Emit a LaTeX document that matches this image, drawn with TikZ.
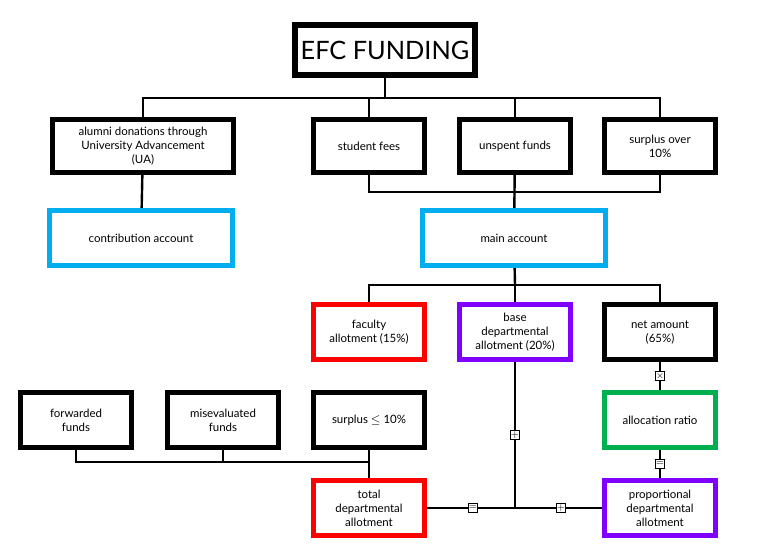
\documentclass[tikz,border=0pt]{standalone}
\usepackage{fontspec}
\setmainfont{Lato}
\usetikzlibrary{backgrounds}
\definecolor{acct}{RGB}{0,174,239}
\definecolor{allot}{RGB}{255,0,0}
\definecolor{dept}{RGB}{127,0,255}
\definecolor{ratio}{RGB}{0,176,80}
\tikzset{
  box/.style={draw=black, line width=3.6pt, fill=white, align=center,
    minimum width=83pt, minimum height=40pt, inner sep=2pt,
    font=\fontsize{8.6}{10.5}\selectfont},
  wide/.style={box, minimum width=137pt, minimum height=41pt},
  wire/.style={line width=1.8pt},
  op/.style={draw=black, line width=1.1pt, fill=white, minimum size=7pt,
    inner sep=0pt, font=\fontsize{7}{7}\selectfont}
}
\begin{document}
\begin{tikzpicture}[x=0.75pt, y=-0.75pt]
\useasboundingbox (0,0) rectangle (777,556);
% sources
\node[box, line width=4.5pt, minimum width=135pt, minimum height=37pt,
  font=\fontsize{19}{22}\selectfont] (efc) at (385,50) {EFC FUNDING};
\node[wide, minimum width=136pt, minimum height=40pt] (alumni) at (143,146) {alumni donations through\\University Advancement\\(UA)};
\node[box] (fees) at (369,146) {student fees};
\node[box] (unspent) at (515,146) {unspent funds};
\node[box] (surplus) at (660,146) {surplus over\\10\%};
% accounts
\node[wide, draw=acct] (contrib) at (141,238) {contribution account};
\node[wide, draw=acct] (main) at (514,238) {main account};
% allotments
\node[box, draw=allot, minimum height=41pt] (faculty) at (369,332) {faculty\\allotment (15\%)};
\node[box, draw=dept, minimum height=41pt] (base) at (515,332) {base\\departmental\\allotment (20\%)};
\node[box, minimum height=41pt] (net) at (660,332) {net amount\\(65\%)};
\node[box, minimum height=41pt] (forward) at (76,420) {forwarded\\funds};
\node[box, minimum height=41pt] (misev) at (223,420) {misevaluated\\funds};
\node[box, minimum height=41pt] (small) at (369,420) {surplus $\leq$ 10\%};
\node[box, draw=ratio, minimum height=41pt] (alloc) at (660,420) {allocation ratio};
\node[box, draw=allot, minimum height=41pt] (total) at (369,508) {total\\departmental\\allotment};
\node[box, draw=dept, minimum height=41pt] (prop) at (660,508) {proportional\\departmental\\allotment};
% bus points
\coordinate (btop) at (385,98);
\coordinate (bmid) at (515,192);
\coordinate (bacc) at (515,285);
\coordinate (bleft) at (369,462);
\coordinate (bsum) at (515,508);
\begin{scope}[on background layer]
\draw[wire] (efc) -- (efc |- btop);
\draw[wire] (alumni) -- (alumni |- btop) -- (surplus |- btop) -- (surplus);
\draw[wire] (fees) -- (fees |- btop);
\draw[wire] (unspent) -- (unspent |- btop);
\draw[wire] (alumni) -- (contrib);
\draw[wire] (fees) -- (fees |- bmid) -- (surplus |- bmid) -- (surplus);
\draw[wire] (unspent) -- (main);
\draw[wire] (main) -- (bacc);
\draw[wire] (faculty) -- (faculty |- bacc) -- (net |- bacc) -- (net);
\draw[wire] (base) -- (bacc);
\draw[wire] (forward) -- (forward |- bleft) -- (bleft);
\draw[wire] (misev) -- (misev |- bleft);
\draw[wire] (small) -- (total);
\draw[wire] (base) -- (bsum);
\draw[wire] (total) -- (prop);
\draw[wire] (net) -- (alloc);
\draw[wire] (alloc) -- (prop);
\end{scope}
% operators
\node[op] (times) at (660,376) {$\times$};
\node[op] (eqa) at (660,464) {$=$};
\node[op] (plusa) at (515,435) {$+$};
\node[op] (eqb) at (473,508) {$=$};
\node[op] (plusb) at (561,508) {$+$};
\end{tikzpicture}
\end{document}
